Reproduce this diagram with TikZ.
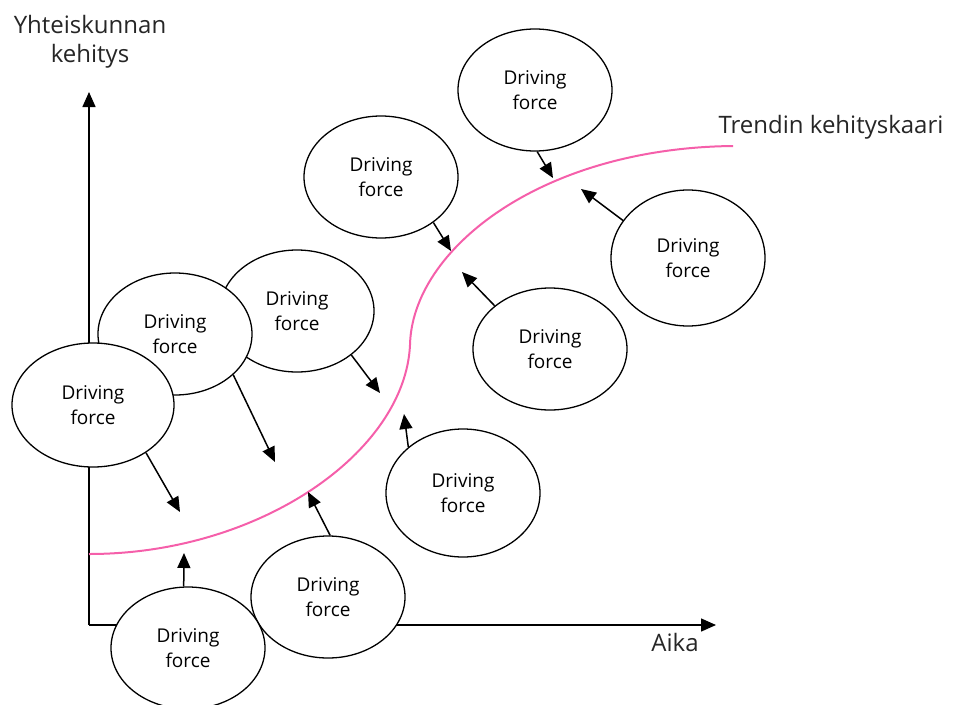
\documentclass[tikz,border=0pt]{standalone}
\usepackage{fontspec}
\setmainfont{Open Sans}
\usetikzlibrary{shapes.geometric, arrows.meta}
\definecolor{trendpink}{RGB}{245,95,170}

\begin{document}
\begin{tikzpicture}[x=1pt, y=-1pt,
    force/.style={ellipse, draw, fill=white, line width=1.3pt, inner sep=0pt,
        minimum width=154pt, minimum height=122pt, align=center,
        font=\fontsize{19}{25}\selectfont},
    push/.style={line width=1.5pt, -{Triangle[length=15pt, width=13pt]}},
    axis/.style={line width=1.5pt, -{Triangle[length=15pt, width=13pt]}},
    label/.style={font=\fontsize{24}{29}\selectfont, text=black!85, align=center}]
    \clip (0,0) rectangle (957,704);
    % axes
    \coordinate (O) at (89,625);
    \coordinate (ytop) at (89,92);
    \coordinate (xend) at (716,625);
    \draw[axis] (O) -- (ytop);
    \draw[axis] (O) -- (xend);
    \node[label] (ylab) at (90,42) {Yhteiskunnan\\kehitys};
    \node[label] (xlab) at (675,642) {Aika};
    % trend curve
    \coordinate (c0) at (89,554);
    \coordinate (cm) at (410,345);
    \coordinate (c1) at (733,146);
    \draw[trendpink, line width=2pt] (c0) .. controls (260,554) and (405,452) .. (cm)
        .. controls (412,250) and (540,148) .. (c1);
    \node[label, anchor=west] (trend) at (715,127) {Trendin kehityskaari};
    % driving forces
    \node[force] (f3) at (297,311) {Driving\\force};
    \node[force] (f2) at (175,334) {Driving\\force};
    \node[force, minimum width=162pt, minimum height=124pt] (f1) at (93,405) {Driving\\force};
    \node[force] (f4) at (381,177) {Driving\\force};
    \node[force] (f5) at (535,90) {Driving\\force};
    \node[force, minimum height=136pt] (f6) at (688,258) {Driving\\force};
    \node[force] (f7) at (550,349) {Driving\\force};
    \node[force, minimum height=128pt] (f8) at (463,493) {Driving\\force};
    \node[force] (f9) at (328,597) {Driving\\force};
    \node[force] (f10) at (188,648) {Driving\\force};
    % arrow tips
    \coordinate (t1) at (180,512);
    \coordinate (t2) at (275,462);
    \coordinate (t3) at (380,393);
    \coordinate (t4) at (451,251);
    \coordinate (t5) at (553,178);
    \coordinate (t6) at (581,189);
    \coordinate (t7) at (462,272);
    \coordinate (t8) at (404,414);
    \coordinate (t9) at (308,492);
    \coordinate (t10) at (184,553);
    \draw[push] (f1.-42) -- (t1);
    \draw[push] (f2.-35) -- (t2);
    \draw[push] (f3.-39) -- (t3);
    \draw[push] (f4.-41) -- (t4);
    \draw[push] (f5.-88) -- (t5);
    \draw[push] (f6.150) -- (t6);
    \draw[push] (f7.142) -- (t7);
    \draw[push] (f8.140) -- (t8);
    \draw[push] (f9.88) -- (t9);
    \draw[push] (f10.94) -- (t10);
\end{tikzpicture}
\end{document}
